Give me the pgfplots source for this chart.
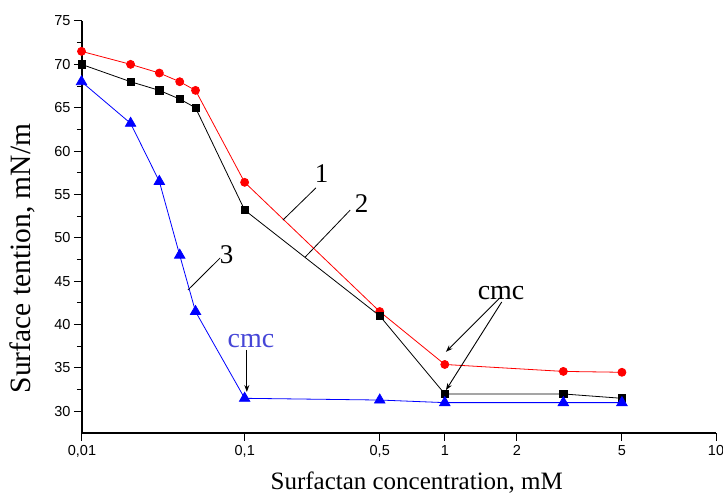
\documentclass[border=0pt]{standalone}
\usepackage{fontspec}
\setmainfont{Liberation Serif}
\newfontfamily\ticksfont{Liberation Sans}
\usepackage{pgfplots}
\pgfplotsset{compat=1.18}
\usetikzlibrary{arrows.meta}

\definecolor{cmcblue}{RGB}{70,70,215}

\begin{document}
\begin{tikzpicture}
\useasboundingbox (-82pt,-62pt) rectangle (641pt,433pt);
\begin{axis}[
    at={(0,0)}, anchor=south west,
    scale only axis,
    width=634pt, height=412pt,
    clip=false,
    % the original x scale is log-like but uneven between ticks
    x coord trafo/.code={%
      \pgfmathparse{ln(#1)/ln(10)}\let\lx=\pgfmathresult
      \pgfmathparse{\lx<-1 ? 163*(\lx+2) : (\lx<-0.30103 ? 163+135*(\lx+1)/0.69897 : (\lx<0 ? 298+65*(\lx+0.30103)/0.30103 : (\lx<0.30103 ? 363+72*\lx/0.30103 : (\lx<0.69897 ? 435+105*(\lx-0.30103)/0.39794 : 540+94*(\lx-0.69897)/0.30103))))}%
    },
    xmin=0.01, xmax=10,
    ymin=27.5, ymax=75,
    xtick={0.01,0.1,0.5,1,2,5,10},
    xticklabels={{0,01},{0,1},{0,5},1,2,5,10},
    ytick={30,35,...,75},
    minor y tick num=1,
    axis x line*=bottom, axis y line*=left,
    axis line style={line width=1.3pt},
    tick align=outside,
    major tick length=8pt, minor tick length=5pt,
    every tick/.style={black, line width=1pt},
    /pgf/number format/assume math mode=true,
    tick label style={font=\ticksfont\fontsize{14.5}{16}\selectfont},
    xticklabel style={yshift=-1pt},
    xlabel={Surfactan concentration, mM},
    ylabel={Surface tention, mN/m},
    xlabel style={font=\fontsize{25}{28}\selectfont, at={([yshift=-57pt]axis description cs:0.528,0)}, anchor=base},
    ylabel style={font=\fontsize{29.5}{31}\selectfont, at={([xshift=-51pt]axis description cs:0,0.4235)}, anchor=base},
]
% 1
\addplot[red, line width=0.8pt, mark=*, mark size=4pt] coordinates {
 (0.01,71.5) (0.02,70.0) (0.03,69.0) (0.04,68.0) (0.05,67.0)
 (0.1,56.4) (0.5,41.5) (1,35.4) (3,34.6) (5,34.5)};
% 2
\addplot[black, line width=0.8pt, mark=square*, mark size=3.6pt] coordinates {
 (0.01,70.0) (0.02,68.0) (0.03,67.0) (0.04,66.0) (0.05,65.0)
 (0.1,53.2) (0.5,41.0) (1,32.0) (3,32.0) (5,31.5)};
% 3
\addplot[blue, line width=0.8pt, mark=triangle*, mark size=6pt] coordinates {
 (0.01,68.0) (0.02,63.2) (0.03,56.5) (0.04,48.0) (0.05,41.5)
 (0.1,31.5) (0.5,31.3) (1,31.0) (3,31.0) (5,31.0)};

% curve numbers
\draw[line width=0.8pt] (rel axis cs:0.317,0.517) -- (rel axis cs:0.369,0.595);
\node[font=\fontsize{27}{30}\selectfont, anchor=base] at (rel axis cs:0.378,0.607) {1};
\draw[line width=0.8pt] (rel axis cs:0.352,0.427) -- (rel axis cs:0.423,0.541);
\node[font=\fontsize{27}{30}\selectfont, anchor=base] at (rel axis cs:0.441,0.534) {2};
\draw[line width=0.8pt] (rel axis cs:0.167,0.347) -- (rel axis cs:0.218,0.425);
\node[font=\fontsize{27}{30}\selectfont, anchor=base] at (rel axis cs:0.228,0.4126) {3};

% cmc marks
\node[font=\fontsize{28}{30}\selectfont, text=cmcblue, anchor=base] at (rel axis cs:0.2666,0.2087) {cmc};
\draw[line width=0.9pt, -{Stealth[length=7pt,width=5pt]}] (rel axis cs:0.26,0.2015) -- (rel axis cs:0.26,0.0995);
\node[font=\fontsize{28}{30}\selectfont, anchor=base] at (rel axis cs:0.661,0.325) {cmc};
\draw[line width=0.9pt, -{Stealth[length=7pt,width=5pt]}] (rel axis cs:0.659,0.328) -- (rel axis cs:0.574,0.197);
\draw[line width=0.9pt, -{Stealth[length=7pt,width=5pt]}] (rel axis cs:0.662,0.318) -- (rel axis cs:0.574,0.104);
\end{axis}
\end{tikzpicture}
\end{document}
